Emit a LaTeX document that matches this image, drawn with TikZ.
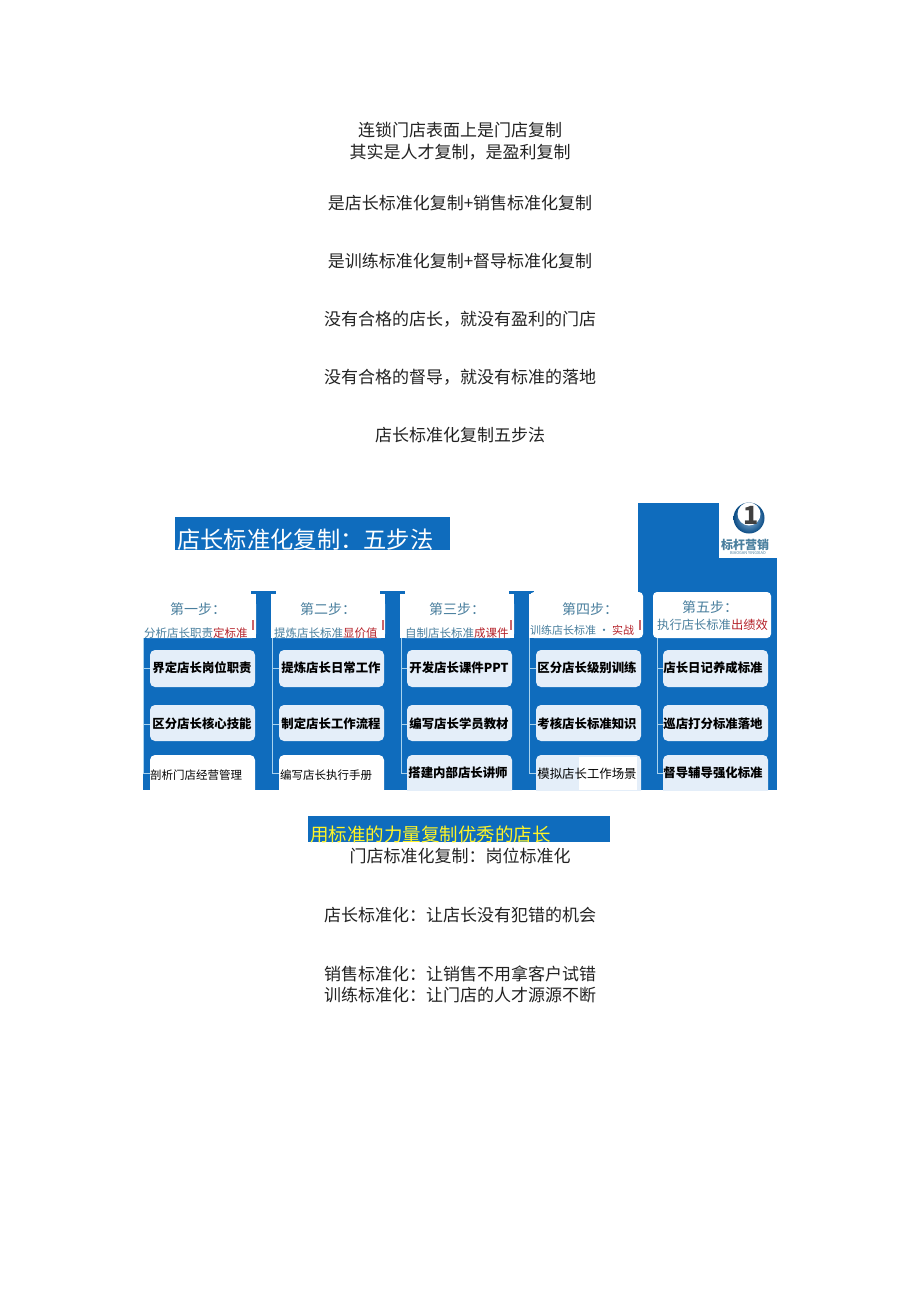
\documentclass[tikz,border=0pt]{standalone}
\usepackage{fontspec}
\setmainfont{Noto Sans CJK SC}
\definecolor{bl}{HTML}{0F6CBD}
\definecolor{cardc}{HTML}{E4EEF9}
\definecolor{linec}{HTML}{A9D3EE}
\definecolor{headc}{HTML}{4A7F9E}
\definecolor{redc}{HTML}{B5222A}
\definecolor{bodyc}{HTML}{222222}
\tikzset{
 x=1pt,y=-1pt,
 bodytext/.style={font=\fontsize{17}{17}\selectfont,text=bodyc,inner sep=0,anchor=center},
 card/.style={fill=cardc,rounded corners=5pt},
 cardlabel/.style={font=\fontsize{12.4}{13}\selectfont\bfseries,text=black,inner sep=0,anchor=center},
 plainlabel/.style={font=\fontsize{11.5}{12}\selectfont,text=black,inner sep=0,anchor=center},
 headlabel/.style={font=\fontsize{14}{14}\selectfont,text=headc,inner sep=0,anchor=center},
 sublabel/.style={font=\fontsize{11.5}{12}\selectfont,text=headc,inner sep=0,anchor=west},
 branch/.style={draw=linec,line width=1pt},
}
\begin{document}
\begin{tikzpicture}
\useasboundingbox[fill=white] (0,0) rectangle (920,1301);
% body text
\node[bodytext] (t1) at (460,130) {连锁门店表面上是门店复制};
\node[bodytext] (t2) at (460,152) {其实是人才复制，是盈利复制};
\node[bodytext] (t3) at (460,203) {是店长标准化复制+销售标准化复制};
\node[bodytext] (t4) at (460,261) {是训练标准化复制+督导标准化复制};
\node[bodytext] (t5) at (460,319) {没有合格的店长，就没有盈利的门店};
\node[bodytext] (t6) at (460,377) {没有合格的督导，就没有标准的落地};
\node[bodytext] (t7) at (460,435) {店长标准化复制五步法};
\node[bodytext] (t8) at (460,856) {门店标准化复制：岗位标准化};
\node[bodytext] (t9) at (460,915) {店长标准化：让店长没有犯错的机会};
\node[bodytext] (t10) at (460,974) {销售标准化：让销售不用拿客户试错};
\node[bodytext] (t11) at (460,995) {训练标准化：让门店的人才源源不断};
% title
\fill[bl] (175,517) rectangle (450,550);
\begin{scope}
\clip (175,517) rectangle (450,550);
\node[font=\fontsize{23.3}{24}\selectfont,text=white,inner sep=0,anchor=west] (title) at (177,540) {店长标准化复制：五步法};
\end{scope}
% main blue
\fill[bl] (143,638) rectangle (777,790);
\fill[bl] (638,503) rectangle (777,640);
\fill[white] (719,503) rectangle (777,558);
% spines
\foreach \x in {256,385,514}{
 \fill[bl] (\x,594) rectangle (\x+15,640);
 \fill[bl] (\x-5,591) rectangle (\x+20,594);
}
% header cards
\fill[white,rounded corners=4pt] (653,592) rectangle (771,638);
\fill[white,rounded corners=4pt] (530,592) rectangle (643,638);
\fill[white,rounded corners=4pt] (143,600) rectangle (256,638);
\fill[white,rounded corners=4pt] (272,600) rectangle (385,638);
\fill[white,rounded corners=4pt] (401,600) rectangle (514,638);
% connector trunks
\coordinate (v1) at (143,638); \coordinate (v2) at (272,638); \coordinate (v3) at (401,638);
\coordinate (v4) at (529,638); \coordinate (v5) at (657,638);
\foreach \n/\xa/\xb/\col in {1/150/255/white,2/279/384/white,3/407/512/cardc,4/536/641/cardc,5/663/768/cardc}{
 \fill[card] (\xa,650) rectangle (\xb,687);
 \fill[card] (\xa,705) rectangle (\xb,741);
 \begin{scope}
 \clip (\xa-2,750) rectangle (\xb+2,790);
 \fill[fill=\col,rounded corners=5pt] (\xa,755) rectangle (\xb,800);
 \end{scope}
 \coordinate (a\n) at (\xa,668);
 \coordinate (b\n) at (\xa,724);
 \coordinate (c\n) at (\xa,773);
 \draw[branch] (v\n) |- (a\n);
 \draw[branch] (v\n) |- (b\n);
 \draw[branch] (v\n) |- (c\n);
}
\fill[white] (579,757) rectangle (637,790);
% headers
\node[headlabel] (h1) at (198,609) {第一步：};
\node[headlabel] (h2) at (328,609) {第二步：};
\node[headlabel] (h3) at (457,609) {第三步：};
\node[headlabel] (h4) at (590,609) {第四步：};
\node[headlabel] (h5) at (710,607) {第五步：};
\begin{scope}
\clip (143,620) rectangle (777,637);
\node[sublabel] (s1) at (144,633) {分析店长职责\textcolor{redc}{定标准}};
\node[sublabel] (s2) at (274,633) {提炼店长标准\textcolor{redc}{显价值}};
\node[sublabel] (s3) at (405,633) {自制店长标准\textcolor{redc}{成课件}};
\end{scope}
\node[sublabel,font=\fontsize{11}{11}\selectfont] (s4) at (530,630) {训练店长标准 · \textcolor{redc}{实战}};
\node[sublabel,font=\fontsize{12.3}{12}\selectfont] (s5) at (657,625) {执行店长标准\textcolor{redc}{出绩效}};
% small red marks
\foreach \x/\y in {253/625,383/625,511/625,640/625}{
 \fill[redc!70] (\x-0.6,\y-5) rectangle (\x+0.6,\y+5);
}
% card labels
\node[cardlabel] (c11) at (202,668) {界定店长岗位职责};
\node[cardlabel] (c12) at (202,724) {区分店长核心技能};
\node[plainlabel] (c13) at (196,775) {剖析门店经营管理};
\node[cardlabel] (c21) at (331,668) {提炼店长日常工作};
\node[cardlabel] (c22) at (331,724) {制定店长工作流程};
\node[plainlabel] (c23) at (326,775) {编写店长执行手册};
\node[cardlabel] (c31) at (459,668) {开发店长课件PPT};
\node[cardlabel] (c32) at (459,724) {编写店长学员教材};
\node[cardlabel] (c33) at (458,773) {搭建内部店长讲师};
\node[cardlabel] (c41) at (587,668) {区分店长级别训练};
\node[cardlabel] (c42) at (587,724) {考核店长标准知识};
\node[plainlabel,font=\fontsize{12.4}{13}\selectfont] (c43) at (587,774) {模拟店长工作场景};
\node[cardlabel] (c51) at (713,668) {店长日记养成标准};
\node[cardlabel] (c52) at (713,724) {巡店打分标准落地};
\node[cardlabel] (c53) at (713,773) {督导辅导强化标准};
% logo
\shade[inner color=white!60!bl,outer color=bl!70!black] (749,518) circle (15.5);
\fill[white] (749,514) circle (11.5);
\node[font=\fontsize{25}{25}\selectfont\bfseries,text=black!75,inner sep=0] (logo1) at (751,515) {1};
\node[font=\fontsize{12}{12}\selectfont\bfseries,text=headc,inner sep=0] (logo2) at (745,545) {标杆营销};
\node[font=\fontsize{4}{4}\selectfont,text=headc,inner sep=0] (logo3) at (748,553.5) {BIAOGAN YINGXIAO};
% bottom banner
\fill[bl] (308,816) rectangle (610,842);
\begin{scope}
\clip (308,816) rectangle (610,842);
\node[font=\fontsize{18.5}{19}\selectfont,text=yellow!85!white,inner sep=0,anchor=west] (banner) at (310,834) {用标准的力量复制优秀的店长};
\end{scope}
\end{tikzpicture}
\end{document}
